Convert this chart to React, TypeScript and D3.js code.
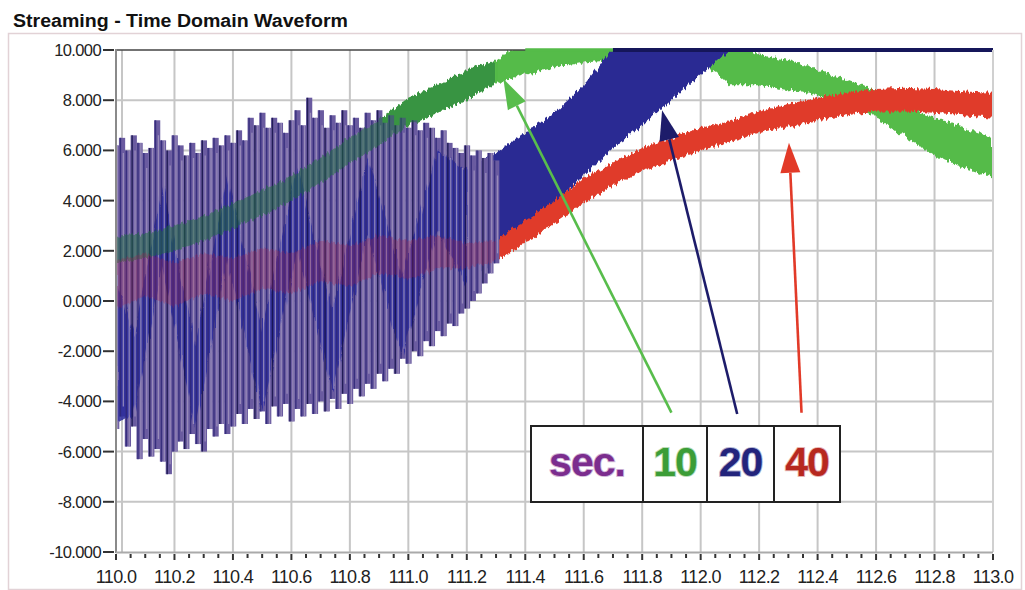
import React from 'react'
import * as d3 from 'd3'

// ---- chart values ----
const xTicks = [110.0, 110.2, 110.4, 110.6, 110.8, 111.0, 111.2, 111.4, 111.6, 111.8, 112.0, 112.2, 112.4, 112.6, 112.8, 113.0]
const yTicks = [10, 8, 6, 4, 2, 0, -2, -4, -6, -8, -10]

// 10 sec (green) band: time, low edge, high edge
const greenT = [110.0, 110.1, 110.2, 110.3, 110.4, 110.5, 110.6, 110.7, 110.8, 110.9, 111.0, 111.1, 111.2, 111.3, 111.4, 111.5, 111.6, 111.7, 111.8, 111.9, 112.0, 112.1, 112.2, 112.3, 112.4, 112.5, 112.6, 112.7, 112.8, 112.9, 113.0]
const greenLo = [1.5, 1.7, 2.0, 2.4, 2.9, 3.4, 4.0, 4.7, 5.5, 6.2, 7.0, 7.5, 8.0, 8.7, 9.0, 9.3, 9.5, 9.6, 9.7, 9.7, 9.6, 8.6, 8.6, 8.4, 8.2, 7.9, 7.3, 6.5, 5.8, 5.3, 4.9]
const greenHi = [2.6, 2.7, 3.0, 3.4, 3.9, 4.4, 5.0, 5.7, 6.5, 7.2, 8.1, 8.6, 9.2, 9.6, 10.4, 10.6, 10.7, 10.8, 10.8, 10.8, 10.7, 10.4, 9.8, 9.6, 9.2, 8.8, 8.4, 7.7, 7.3, 6.9, 6.5]

// 20 sec (blue) band after the oscillation
const blueT = [111.2, 111.3, 111.4, 111.5, 111.6, 111.7, 111.8, 111.9, 112.0, 112.1, 112.2, 112.4, 112.6, 112.8, 113.0]
const blueLo = [0.6, 1.7, 2.8, 3.9, 5.0, 6.1, 7.0, 8.0, 9.0, 10.0, 10.4, 10.6, 10.6, 10.5, 10.5]
const blueHi = [5.2, 5.9, 6.7, 7.5, 8.6, 10.1, 11.0, 11.5, 12.0, 12.2, 12.2, 12.2, 12.2, 12.2, 12.2]

// 20 sec (blue) slow swing inside the oscillating part
const blueOscT = [110.0, 110.06, 110.16, 110.27, 110.38, 110.5, 110.62, 110.74, 110.86, 110.98, 111.1, 111.2]
const blueOscLo = [-4.8, -4.6, 1.4, -5.0, 1.6, -4.4, 2.0, -3.6, 2.6, -2.2, 2.8, 0.6]
const blueOscHi = [1.0, -1.4, 4.6, -1.8, 5.0, -1.2, 5.4, -0.4, 5.8, 1.0, 6.0, 5.2]

// 40 sec (red) band
const redT = [110.0, 110.1, 110.2, 110.3, 110.4, 110.5, 110.6, 110.7, 110.8, 110.9, 111.0, 111.1, 111.2, 111.3, 111.4, 111.5, 111.6, 111.7, 111.8, 111.9, 112.0, 112.1, 112.2, 112.3, 112.4, 112.5, 112.6, 112.7, 112.8, 112.9, 113.0]
const redLo = [-0.3, 0.2, -0.2, 0.3, 0.0, 0.5, 0.3, 0.8, 0.6, 1.1, 0.9, 1.3, 1.3, 1.6, 2.3, 3.1, 3.9, 4.6, 5.2, 5.6, 6.0, 6.35, 6.7, 6.95, 7.2, 7.4, 7.55, 7.55, 7.5, 7.4, 7.3]
const redHi = [1.6, 1.9, 1.5, 1.9, 1.7, 2.1, 1.9, 2.4, 2.2, 2.6, 2.4, 2.6, 2.3, 2.4, 3.2, 4.0, 4.9, 5.5, 6.1, 6.5, 6.9, 7.2, 7.55, 7.85, 8.1, 8.3, 8.45, 8.5, 8.45, 8.35, 8.3]

// fast oscillation strokes (one every 0.02 s from 110.00)
const oscStart = 110.0
const oscStep = 0.02
const oscHigh = [6.2, 6.5, 6.0, 6.6, 6.3, 5.9, 6.1, 7.2, 6.4, 6.0,
  6.6, 6.2, 5.8, 6.3, 5.9, 6.4, 6.1, 6.5, 6.2, 6.6,
  6.3, 6.8, 6.4, 7.3, 7.0, 7.5, 6.9, 7.3, 7.1, 6.7,
  7.2, 7.6, 7.0, 8.1, 7.3, 7.6, 6.9, 7.4, 7.1, 7.6,
  7.0, 7.3, 6.9, 7.5, 7.2, 7.6, 7.1, 7.4, 7.0, 7.3,
  6.9, 7.2, 6.8, 7.1, 6.9, 6.5, 6.8, 6.3, 6.1, 5.9,
  6.2, 5.8, 6.0, 5.7, 5.9, 5.6]
const oscLow = [-5.1, -4.6, -5.8, -5.0, -6.3, -5.5, -6.2, -5.9, -6.4, -6.9,
  -6.0, -5.6, -5.9, -5.3, -5.7, -6.0, -5.1, -5.4, -4.9, -5.3,
  -5.0, -4.5, -4.9, -4.3, -4.7, -4.4, -4.9, -4.2, -4.6, -4.1,
  -4.8, -4.3, -4.6, -4.1, -4.5, -4.0, -4.4, -3.9, -4.3, -3.7,
  -4.1, -3.5, -3.8, -3.3, -3.5, -2.9, -3.2, -2.7, -2.9, -2.3,
  -2.5, -2.0, -2.2, -1.6, -1.8, -1.2, -1.4, -0.9, -1.0, -0.5,
  -0.3, 0.0, 0.3, 0.7, 1.1, 1.5]

// annotation arrows: [tailT, tailV, tipT, tipV]
const arrowGreen = [111.9, -4.45, 111.325, 8.85]
const arrowBlue = [112.125, -4.5, 111.868, 7.6]
const arrowRed = [112.345, -4.45, 112.302, 6.3]

const legendLabels = ['sec.', '10', '20', '40']
const legendColors = ['#7b2d8e', '#3c9d37', '#23247c', '#b7281f']
const legendWidths = [112, 64, 67, 66]

const C_GREEN = '#55bb49'
const C_BLUE = '#2b2c93'
const C_NAVY = '#15165a'
const C_RED = '#e03b2a'

export default function App() {
  const x = d3.scaleLinear().domain([110, 113]).range([116, 993])
  const y = d3.scaleLinear().domain([-10, 10]).range([552, 50])

  const zip = (t: number[], lo: number[], hi: number[]) => t.map((v, i) => [v, lo[i], hi[i]] as [number, number, number])
  const green = zip(greenT, greenLo, greenHi)
  const blue = zip(blueT, blueLo, blueHi)
  const blueOsc = zip(blueOscT, blueOscLo, blueOscHi)
  const red = zip(redT, redLo, redHi)
  const osc = oscHigh.map((h, i) => [oscStart + i * oscStep, oscLow[i], h] as [number, number, number])

  const band = d3.area<[number, number, number]>()
    .x(d => x(d[0]))
    .y0(d => y(d[1]))
    .y1(d => y(d[2]))
  const topClip = (key: 1 | 2) => d3.line<[number, number, number]>()
    .defined(d => d[key] > 10)
    .x(d => x(d[0]))
    .y(() => y(10))

  const oscEnd = osc[osc.length - 1][0]
  const greenOsc = green.filter(d => d[0] <= oscEnd + 0.05)
  const redOsc = red.filter(d => d[0] <= oscEnd + 0.05)
  const slot = x(oscStart + oscStep) - x(oscStart)

  const minorTicks = d3.range(0, 61).map(i => 110 + i * 0.05)

  const arrow = (a: number[], color: string) => {
    const x1 = x(a[0]), y1 = y(a[1]), x2 = x(a[2]), y2 = y(a[3])
    const ang = Math.atan2(y2 - y1, x2 - x1)
    const len = 30, half = 10
    const bx = x2 - len * Math.cos(ang), by = y2 - len * Math.sin(ang)
    const px = -Math.sin(ang) * half, py = Math.cos(ang) * half
    return (
      <g key={color}>
        <line x1={x1} y1={y1} x2={bx} y2={by} stroke={color} strokeWidth={2.6} />
        <polygon points={`${x2},${y2} ${bx + px},${by + py} ${bx - px},${by - py}`} fill={color} />
      </g>
    )
  }

  // legend cells
  const legX = 531, legY = 426, legH = 76
  let acc = legX
  const cells = legendWidths.map((w, i) => {
    const c = { x: acc, w, label: legendLabels[i], color: legendColors[i] }
    acc += w
    return c
  })

  return (
    <svg width={1025} height={590} style={{ position: 'absolute', left: 0, top: 0, background: '#fff' }}
      fontFamily="'Liberation Sans', Arial, sans-serif">
      <defs>
        <clipPath id="plot">
          <rect x={116} y={50} width={877} height={502} />
        </clipPath>
        <filter id="rough" x="-5%" y="-10%" width="110%" height="120%">
          <feTurbulence type="fractalNoise" baseFrequency="0.45 0.02" numOctaves={2} seed={4} result="n" />
          <feDisplacementMap in="SourceGraphic" in2="n" scale={8} xChannelSelector="R" yChannelSelector="G" />
        </filter>
      </defs>

      {/* outer panel */}
      <rect x={8.5} y={33.5} width={1013} height={556} fill="none" stroke="#e2d2d6" strokeWidth={1.5} />
      <text x={13} y={27} fontSize={18} fontWeight="bold" fill="#111" textLength={335} lengthAdjust="spacingAndGlyphs">
        Streaming - Time Domain Waveform
      </text>

      {/* grid */}
      <g stroke="#c6c6c6" strokeWidth={2}>
        {xTicks.slice(1).map(t => <line key={t} x1={x(t)} x2={x(t)} y1={50} y2={552} />)}
        {yTicks.slice(1, -1).map(v => <line key={v} x1={116} x2={993} y1={y(v)} y2={y(v)} />)}
        <line x1={122} x2={122} y1={50} y2={552} />
      </g>

      {/* series */}
      <g clipPath="url(#plot)">
        <path d={band(green) || ''} fill={C_GREEN} filter="url(#rough)" />
        <path d={band(blue) || ''} fill={C_BLUE} filter="url(#rough)" />
        <path d={band(red) || ''} fill={C_RED} filter="url(#rough)" />

        {/* oscillating part */}
        <g>
          {osc.map((d, i) => (
            <rect key={'s' + i} x={x(d[0]) - slot / 2} width={slot + 0.4} y={y(d[2])} height={y(d[1]) - y(d[2])} fill="#6a5ba0" />
          ))}
          <path d={band(blueOsc) || ''} fill="#2c2c9c" opacity={0.85} filter="url(#rough)" />
          {osc.map((d, i) => (
            <line key={'d' + i} x1={x(d[0]) - 1.4} x2={x(d[0]) - 1.4} y1={y(d[2])} y2={y(d[1])}
              stroke={i % 3 === 0 ? '#15124a' : '#2f2878'} strokeWidth={1.4} opacity={0.85} />
          ))}
          {osc.map((d, i) => (
            <line key={'l' + i} x1={x(d[0]) + 1.5} x2={x(d[0]) + 1.5} y1={y(d[2] - (i % 2) * 0.6)} y2={y(d[1] + (i % 2) * 0.4)}
              stroke="#a99dc3" strokeWidth={1.3} opacity={0.75} />
          ))}
          <path d={band(greenOsc) || ''} fill="#1f6e3c" opacity={0.5} filter="url(#rough)" />
          <path d={band(redOsc) || ''} fill="#a5204e" opacity={0.28} filter="url(#rough)" />
        </g>
      </g>

      {/* top border and clipped traces */}
      <line x1={116} x2={993} y1={50} y2={50} stroke="#444" strokeWidth={1.5} />
      <path d={topClip(2)(green) || ''} fill="none" stroke={C_GREEN} strokeWidth={3.5} />
      <path d={topClip(2)(blue) || ''} fill="none" stroke={C_NAVY} strokeWidth={4} />
      <line x1={993} x2={993} y1={50} y2={552} stroke="#d0d0d0" strokeWidth={2} />

      {/* axes */}
      <line x1={116} x2={116} y1={49} y2={553} stroke="#8a8a8a" strokeWidth={2} />
      <line x1={116} x2={993} y1={552.5} y2={552.5} stroke="#aaaaaa" strokeWidth={2} />
      {yTicks.map(v => (
        <g key={v}>
          <line x1={103} x2={114} y1={y(v)} y2={y(v)} stroke="#333" strokeWidth={2} />
          <text x={101} y={y(v) + 6} textAnchor="end" fontSize={16.5} fill="#222" letterSpacing={-0.6}>{v.toFixed(3)}</text>
        </g>
      ))}
      {minorTicks.map((t, i) => (
        <line key={i} x1={x(t)} x2={x(t)} y1={554} y2={i % 4 === 0 ? 560 : 558} stroke="#333" strokeWidth={2} />
      ))}
      {xTicks.map(t => (
        <text key={t} x={x(t)} y={583} textAnchor="middle" fontSize={18} fill="#222" letterSpacing={-0.6}>{t.toFixed(1)}</text>
      ))}

      {/* annotations */}
      {arrow(arrowGreen, '#58bd4c')}
      {arrow(arrowBlue, '#1d1c6a')}
      {arrow(arrowRed, '#e23a28')}

      <rect x={legX} y={legY} width={acc - legX} height={legH} fill="#fff" stroke="#222" strokeWidth={2} />
      {cells.map((c, i) => (
        <g key={c.label}>
          {i > 0 && <line x1={c.x} x2={c.x} y1={legY} y2={legY + legH} stroke="#222" strokeWidth={2} />}
          <text x={c.x + c.w / 2} y={476} textAnchor="middle" fontSize={41} fontWeight="bold" fill={c.color}
            stroke={c.color} strokeOpacity={0.35} strokeWidth={2} letterSpacing={-1}>{c.label}</text>
        </g>
      ))}
    </svg>
  )
}
